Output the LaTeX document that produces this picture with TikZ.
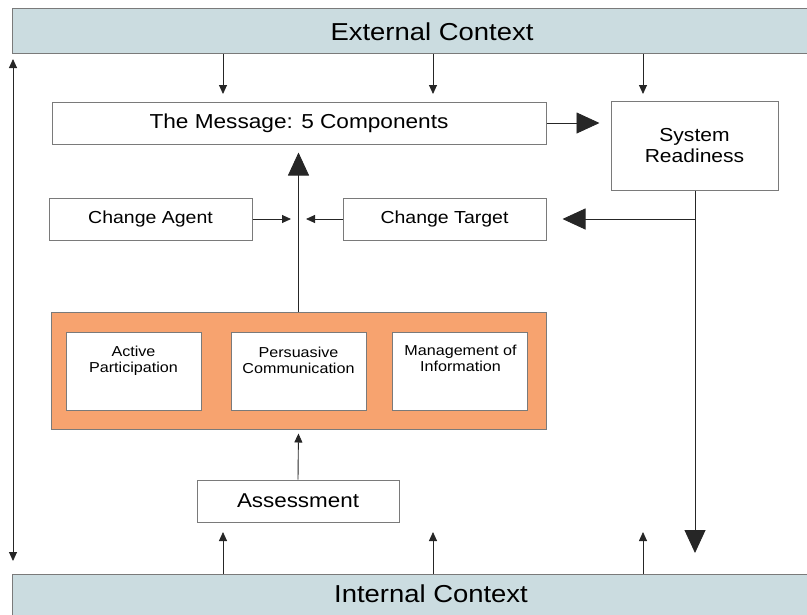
\documentclass[tikz,border=0pt]{standalone}
\usepackage{fontspec}
\setmainfont{Liberation Sans}[FakeStretch=1.12]
\usetikzlibrary{arrows.meta,calc}
\definecolor{barblue}{HTML}{CBDCE0}
\definecolor{orangefill}{HTML}{F7A36F}
\definecolor{edgegray}{HTML}{7A7A7A}
\begin{document}
\begin{tikzpicture}[x=1pt,y=-1pt,
  box/.style={draw=edgegray,line width=1pt,fill=white,inner sep=0pt},
  bar/.style={draw=edgegray,line width=1pt,fill=barblue,inner sep=0pt},
  conn/.style={draw=black!85,line width=0.9pt},
  sarrow/.style={conn,-{Triangle[length=9pt,width=8pt]}},
  barrow/.style={conn,-{Triangle[length=23pt,width=21pt]}},
  darrow/.style={conn,{Triangle[length=9pt,width=8pt]}-{Triangle[length=9pt,width=8pt]}}
]
\useasboundingbox (0,0) rectangle (807,614);
% context bars
\node[bar,minimum width=800pt,minimum height=45pt,anchor=north west] (ext) at (12,8) {};
\node[font=\fontsize{24.5}{26}\selectfont] (exttext) at (432,32) {External Context};
\node[bar,minimum width=800pt,minimum height=46pt,anchor=north west] (int) at (12,574) {};
\node[font=\fontsize{24.5}{26}\selectfont] (inttext) at (431,594) {Internal Context};
% boxes
\node[box,minimum width=494pt,minimum height=42pt,font=\fontsize{20.2}{22}\selectfont] (msg) at (299,123) {The Message: 5 Components};
\node[box,minimum width=167pt,minimum height=89pt,align=center,font=\fontsize{18.8}{20.5}\selectfont] (sys) at (694.5,145.5) {System\\Readiness};
\node[box,minimum width=203pt,minimum height=42pt,font=\fontsize{17.4}{19}\selectfont] (agent) at (150.5,219) {Change Agent};
\node[box,minimum width=203pt,minimum height=42pt,font=\fontsize{17.4}{19}\selectfont] (target) at (444.5,219) {Change Target};
\node[draw=edgegray,line width=1pt,fill=orangefill,minimum width=495pt,minimum height=117pt] (orange) at (298.5,370.5) {};
\node[box,minimum width=135pt,minimum height=78pt] (active) at (133.5,371) {};
\node[box,minimum width=135pt,minimum height=78pt] (persu) at (298.5,371) {};
\node[box,minimum width=135pt,minimum height=78pt] (manag) at (459.5,371) {};
\node[align=center,font=\fontsize{14.4}{15.5}\selectfont,anchor=north] (activet) at (133.5,343) {Active\\Participation};
\node[align=center,font=\fontsize{14.4}{15.5}\selectfont,anchor=north] (persut) at (298.5,344) {Persuasive\\Communication};
\node[align=center,font=\fontsize{14.4}{15.5}\selectfont,anchor=north] (managt) at (460.5,342) {Management of\\Information};
\node[box,minimum width=202pt,minimum height=42pt,font=\fontsize{20}{22}\selectfont] (assess) at (298,501) {Assessment};
% free ends
\coordinate (t1) at (223,94);
\coordinate (t2) at (433,94);
\coordinate (t3) at (643,94);
\coordinate (b1) at (223,532);
\coordinate (b2) at (433,532);
\coordinate (b3) at (643,532);
\coordinate (agentend) at (291,219);
\coordinate (targetend) at (306,219);
\coordinate (sysend) at (695,553);
\coordinate (branch) at (695,219);
\coordinate (lt) at (13,59);
\coordinate (lb) at (13,561);
% connectors
\draw[sarrow] (ext.south -| t1) -- (t1);
\draw[sarrow] (ext.south -| t2) -- (t2);
\draw[sarrow] (ext.south -| t3) -- (t3);
\draw[sarrow] (int.north -| b1) -- (b1);
\draw[sarrow] (int.north -| b2) -- (b2);
\draw[sarrow] (int.north -| b3) -- (b3);
\draw[barrow,shorten >=11pt] (msg.east) -- (msg.east -| sys.west);
\draw[sarrow] (agent.east) -- (agentend);
\draw[sarrow] (target.west) -- (targetend);
\draw[barrow,shorten >=8pt] (orange.north) -- (orange.north |- msg.south);
\draw[barrow] (sys.south -| sysend) -- (sysend);
\draw[barrow,shorten >=16pt] (branch) -- (target.east);
\draw[sarrow,shorten >=4pt] (assess.north) -- (orange.south);
\draw[darrow] (lt) -- (lb);
\end{tikzpicture}
\end{document}
